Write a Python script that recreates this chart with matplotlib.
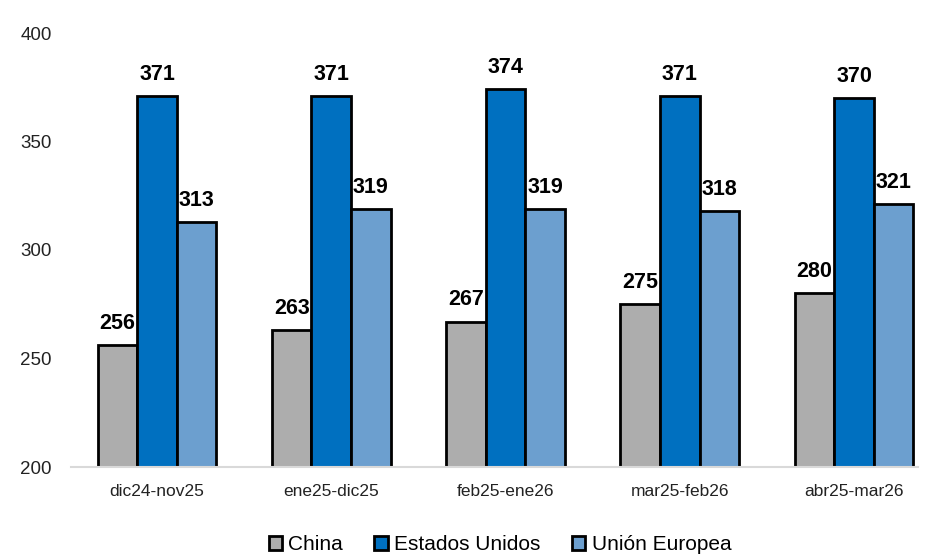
import matplotlib
matplotlib.use("Agg")
import matplotlib.pyplot as plt
import numpy as np
from matplotlib.patches import Patch

plt.rcParams['font.family'] = ['Liberation Sans', 'DejaVu Sans']

categories = ["dic24-nov25", "ene25-dic25", "feb25-ene26", "mar25-feb26", "abr25-mar26"]
series_names = ["China", "Estados Unidos", "Unión Europea"]
china = [256, 263, 267, 275, 280]
eeuu = [371, 371, 374, 371, 370]
ue = [313, 319, 319, 318, 321]
colors = ["#ADADAD", "#0070C0", "#6C9FCF"]
yticks = [200, 250, 300, 350, 400]

fig = plt.figure(figsize=(9.25, 5.55), dpi=100)
ax = fig.add_axes([71/925, 1-467/555, (918-71)/925, (467-33)/555])

x = np.arange(len(categories))
w = 0.227
for i, (vals, c) in enumerate(zip([china, eeuu, ue], colors)):
    pos = x + (i - 1) * w
    ax.bar(pos, vals, width=w, color=c, edgecolor="black", linewidth=2.0,
           bottom=0, zorder=3)
    for px, v in zip(pos, vals):
        ax.annotate(f"{v}", xy=(px, v), xytext=(0, 8), textcoords="offset points",
                    ha="center", va="bottom", fontsize=15.5, fontweight="bold", color="black")

ax.set_ylim(200, 400)
ax.set_xlim((71-157)/174.25, (918-157)/174.25)
ax.set_yticks(yticks)
ax.set_xticks(x)
ax.set_xticklabels(categories)
ax.tick_params(axis="y", length=0, pad=14, labelsize=13.5, colors="#222222")
ax.tick_params(axis="x", length=0, pad=12, labelsize=12.5, colors="#222222")
for s in ["top", "right", "left"]:
    ax.spines[s].set_visible(False)
ax.spines["bottom"].set_color("#D9D9D9")
ax.spines["bottom"].set_linewidth(1.5)
ax.spines["bottom"].set_zorder(4)

handles = [Patch(facecolor=c, edgecolor="black", linewidth=2.0, label=n)
           for c, n in zip(colors, series_names)]
fig.legend(handles=handles, loc="center", bbox_to_anchor=(500/925, 1-545/555),
           ncol=3, frameon=False, fontsize=15, handlelength=0.65, handleheight=0.65,
           handletextpad=0.3, columnspacing=1.5)

fig.savefig("out.png", dpi=100)
